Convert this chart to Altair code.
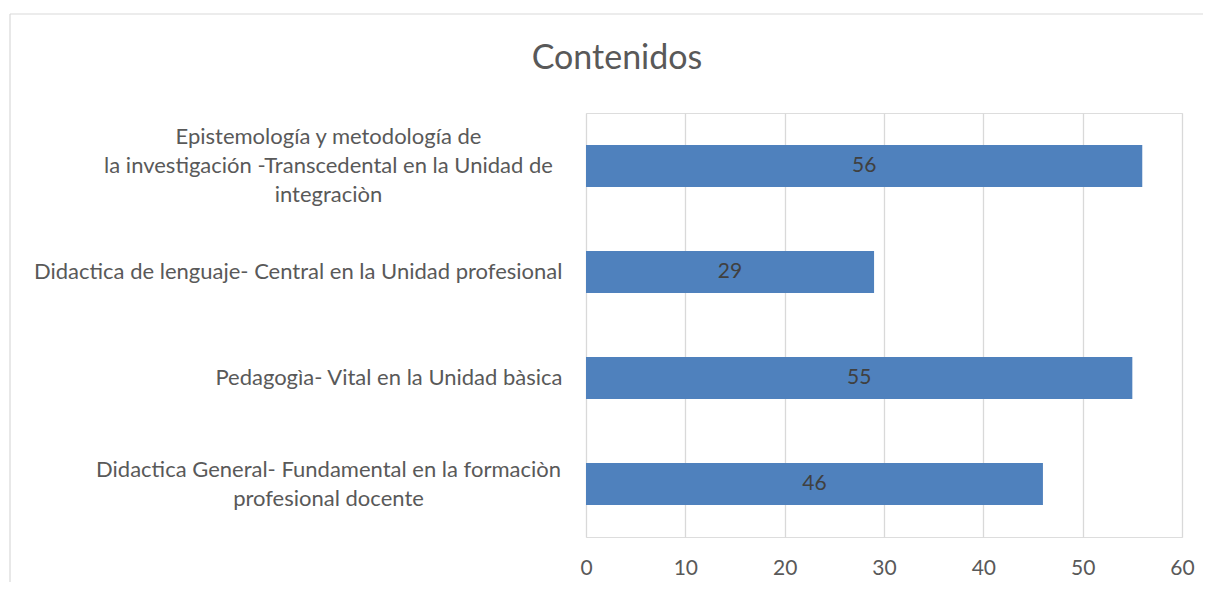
import altair as alt
import pandas as pd

# Data (top to bottom as in the chart)
categories = [
    "Epistemología y metodología de|la investigación -Transcedental en la Unidad de|integraciòn",
    "Didactica de lenguaje- Central en la Unidad profesional",
    "Pedagogìa-  Vital en la Unidad bàsica",
    "Didactica General- Fundamental en la formaciòn|profesional docente",
]
values = [56, 29, 55, 46]
x_ticks = [0, 10, 20, 30, 40, 50, 60]

df = pd.DataFrame({"cat": categories, "val": values})

FONT = "Lato"
LABEL_COLOR = "#595959"
LINE_H = 29

y_scale = alt.Scale(domain=categories, paddingInner=0.604, paddingOuter=0.302)
x_scale = alt.Scale(domain=[0, 60], nice=False)


def x_axis():
    return alt.Axis(
        values=x_ticks,
        title=None,
        domain=False,
        ticks=False,
        grid=True,
        gridColor="#d9d9d9",
        gridWidth=1.3,
        labelFont=FONT,
        labelFontSize=21,
        labelColor=LABEL_COLOR,
        labelPadding=20,
        labelFlush=False,
    )


base = alt.Chart(df)

bars = base.mark_bar(color="#4F81BD").encode(
    x=alt.X("val:Q", scale=x_scale, axis=x_axis()),
    y=alt.Y(
        "cat:N",
        scale=y_scale,
        axis=alt.Axis(
            title=None,
            orient="left",
            domain=False,
            ticks=False,
            grid=False,
            labelFont=FONT,
            labelFontSize=22,
            labelColor=LABEL_COLOR,
            labelAlign="right",
            labelPadding=24,
            labelLimit=0,
            labelExpr="indexof(datum.label, '|') < 0 ? datum.label : ''",
        ),
    ),
)

texts = base.transform_calculate(mid="datum.val / 2").mark_text(
    font=FONT, fontSize=21, color="#404040", baseline="middle", align="center"
).encode(
    x=alt.X("mid:Q", scale=x_scale, axis=x_axis()),
    y=alt.Y(
        "cat:N",
        scale=y_scale,
        axis=alt.Axis(
            title=None,
            orient="left",
            domain=False,
            ticks=False,
            grid=False,
            labelFont=FONT,
            labelFontSize=22,
            labelColor=LABEL_COLOR,
            labelAlign="center",
            labelPadding=258,
            labelLimit=0,
            labelLineHeight=LINE_H,
            labelOffset={
                "condition": [
                    {"test": "length(split(datum.label, '|')) == 3", "value": -LINE_H},
                    {"test": "length(split(datum.label, '|')) == 2", "value": -LINE_H / 2},
                ],
                "value": 0,
            },
            labelExpr="indexof(datum.label, '|') >= 0 ? split(datum.label, '|') : ''",
        ),
    ),
    text=alt.Text("val:Q"),
)

# light frame around the whole chart (decoration)
frame_df = pd.DataFrame({"k": [0]})
frame_top = alt.Chart(frame_df).mark_rule(color="#d9d9d9", strokeWidth=1.2).encode(
    x=alt.value(-576), x2=alt.value(640), y=alt.value(-99)
)
frame_left = alt.Chart(frame_df).mark_rule(color="#d9d9d9", strokeWidth=1.2).encode(
    x=alt.value(-576), y=alt.value(-99), y2=alt.value(500)
)

chart = (
    alt.layer(bars, texts, frame_top, frame_left)
    .resolve_axis(y="independent")
    .properties(
        width=596,
        height=424,
        autosize=alt.AutoSizeParams(type="none"),
        padding={"left": 578, "top": 105, "right": 21, "bottom": 45},
        title=alt.TitleParams(
            "Contenidos",
            font=FONT,
            fontSize=34,
            fontWeight="normal",
            color=LABEL_COLOR,
            anchor="middle",
            frame="group",
            dx=-267,
            offset=0,
            dy=63,
        ),
    )
    .configure_view(strokeWidth=0)
    .configure(background="white")
)

chart.save("out.html", embed_options={"renderer": "svg", "actions": False})
